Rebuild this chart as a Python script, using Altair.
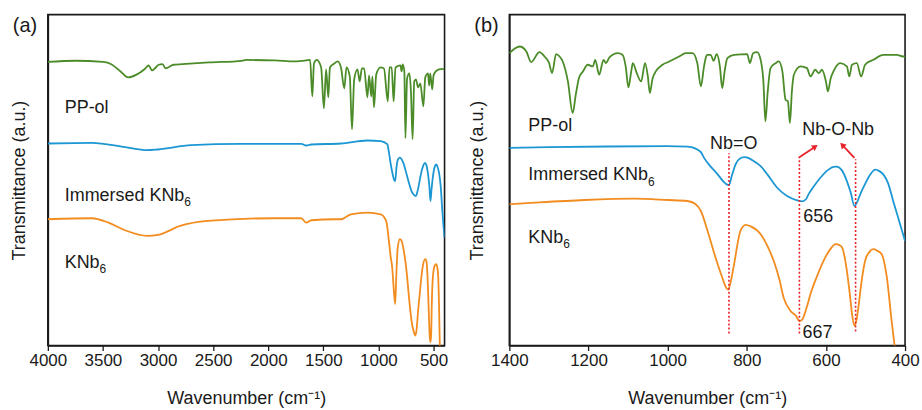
import altair as alt
import pandas as pd

FONT = "Liberation Sans"
GREEN = "#4b8c29"
BLUE = "#1d97d4"
ORANGE = "#f28c1f"
RED = "#e8232b"

# ---------------- Panel (a): 4000-400 cm-1 ----------------
a_green_wn = [4000, 3750, 3500, 3420, 3340, 3270, 3200, 3120, 3085, 3055, 3025, 2995, 2960, 2930, 2900, 2860,
              2780, 2540, 2240, 2200, 1940, 1760, 1700, 1620, 1600, 1585, 1560, 1520, 1495, 1475, 1455, 1440,
              1400, 1370, 1340, 1310, 1290, 1260, 1240, 1220, 1190, 1170, 1150, 1130, 1100, 1085, 1065, 1055,
              1040, 1020, 980, 950, 915, 900, 880, 862, 845, 800, 790, 780, 765, 755, 740, 720, 705, 690, 675,
              660, 640, 620, 592, 575, 550, 540, 530, 512, 500, 480, 450, 420, 400]
a_green_t = [284.5, 285.7, 284.5, 282, 275, 269, 271.5, 277.5, 281, 276, 278.5, 281.7, 282.3, 278, 279.5, 281.7,
             282.3, 284, 285.7, 286.5, 286, 285, 285.5, 286.5, 250, 283, 286.5, 279, 238, 277, 249, 279,
             283, 285, 279, 258, 279, 270, 217, 267, 277, 265, 278, 278, 249, 271, 250, 270,
             239, 272, 279, 278, 245, 279, 279, 245, 279, 281, 275, 282, 275, 208, 268, 273, 255, 207, 265,
             267, 259, 263, 240, 269, 273, 261, 273, 257, 271, 275, 277, 277.5, 277]

a_blue_wn = [4000, 3600, 3300, 3100, 3000, 2700, 2250, 1700, 1655, 1610, 1340, 1100, 980, 920, 905, 890, 875,
             860, 848, 835, 822, 805, 790, 770, 745, 720, 700, 680, 660, 645, 630, 615, 595, 578, 565, 550,
             538, 528, 518, 505, 490, 475, 460, 448, 435, 420, 400]
a_blue_t = [202.7, 203.3, 199, 196, 196.7, 201, 202.3, 202.3, 200.7, 201.7, 202.7, 205.7, 205, 202, 194, 183, 174,
            167, 165, 180, 187, 188.5, 187, 182, 172, 162, 155, 151.5, 150, 155, 163, 171.7, 180, 183.3, 181, 172,
            160, 145, 157, 170, 179, 181.7, 178, 172, 160, 135, 108.3]

a_orange_wn = [4000, 3600, 3450, 3300, 3100, 3000, 2800, 2550, 1950, 1700, 1655, 1610, 1400, 1340, 1250, 1100,
               980, 930, 905, 890, 875, 860, 848, 838, 825, 805, 790, 770, 745, 720, 700, 680, 667, 655, 640,
               620, 600, 575, 565, 555, 545, 535, 528, 522, 515, 505, 490, 477, 465, 458, 450, 443, 435]
a_orange_t = [126.7, 127.7, 123.3, 115.7, 110, 111, 120, 125, 127.7, 127.7, 123.3, 125.7, 126.7, 126.7, 131.7, 133.3,
              131.7, 125, 105, 90, 78.3, 55, 41.7, 70, 98.3, 106.7, 105, 95, 75, 45, 25, 14, 10, 15, 35,
              58, 78, 86.7, 85, 70, 40, 10, 3.3, 10, 45, 70, 80, 81.7, 78, 70, 40, 0, -20]

# ---------------- Panel (b): 1400-400 cm-1 ----------------
b_green_wn = [1400, 1374, 1357, 1345, 1324, 1311, 1300, 1292, 1282, 1273, 1265, 1252, 1240, 1232, 1224, 1214,
              1202, 1189, 1183, 1173, 1162, 1156, 1147, 1126, 1114, 1106, 1099, 1092, 1088, 1078, 1067, 1057,
              1050, 1045, 1038, 1030, 1013, 996, 971, 954, 937, 925, 916, 908, 904, 900, 891, 884, 876, 868,
              862, 856, 849, 832, 799, 792, 784, 774, 765, 758, 753, 747, 740, 727, 719, 710, 702, 696, 691,
              686, 681, 664, 648, 639, 627, 618, 610, 600, 595, 588, 581, 564, 547, 541, 534, 522, 511, 501,
              480, 455, 438, 421, 405, 400]
b_green_t = [293.3, 300, 295, 284.3, 294.3, 290, 284, 273.3, 292.3, 290, 285, 265, 233.3, 252, 268.3, 275,
             281.7, 280, 286.7, 271.7, 286.7, 283.3, 289, 293.3, 291.7, 280, 259, 275, 283.3, 273.3, 265, 283.3,
             270, 253.3, 268, 275, 281.7, 285, 290, 293.3, 293.3, 283.3, 260, 280, 288.3, 291.7, 291.7, 285.7, 292.3, 280,
             258.3, 275, 288.3, 291.7, 292.3, 283.3, 293.3, 294.3, 286.7, 265, 225, 255, 278.3, 283.3, 285, 275, 246.7, 245, 223.3,
             255, 271.7, 280, 278.3, 270, 276.7, 273.3, 276.7, 265, 255, 268, 275, 283.3, 280, 270, 281.7, 283.3, 270, 281.7,
             286.7, 291.7, 291.7, 291.7, 290, 290]

b_blue_wn = [1400, 1300, 1150, 1000, 950, 932, 916, 908, 890, 874, 860, 851, 845, 838, 828, 818, 806, 795, 782,
             765, 748, 723, 698, 673, 660, 650, 644, 630, 614, 595, 581, 573, 560, 547, 537, 528, 520, 513, 500,
             488, 475, 465, 455, 443, 430, 415, 400]
b_blue_t = [198.3, 199, 199.7, 200, 199.5, 198, 194, 188.3, 179, 172, 165, 161.7, 161, 170, 182, 187.5, 189, 188, 185,
            180, 171.7, 158.3, 150, 145.7, 144.7, 147, 151.7, 160, 168.3, 176, 179.3, 179.5, 176, 165, 153, 140, 145, 152, 163,
            171.7, 176.5, 175, 171.7, 163, 145, 125, 105]

b_orange_wn = [1400, 1336, 1210, 1084, 1000, 950, 930, 916, 899, 879, 862, 852, 847, 840, 832, 816, 803, 790, 765,
               748, 732, 718, 707, 690, 675, 667, 660, 648, 639, 622, 606, 590, 575, 565, 559, 547, 540, 534, 528,
               522, 518, 510, 501, 490, 480, 470, 459, 446, 434, 425]
b_orange_t = [141.7, 143.3, 146, 147.3, 146, 145, 142, 135, 115, 88.3, 68.3, 58, 56, 65, 81.7, 115, 121, 119.5, 111.7,
              100, 85, 67, 48.3, 35, 29.5, 24.5, 26, 39, 51.7, 70, 85, 96, 101.7, 100.5, 98.3, 75, 53, 31.7, 20,
              27, 38.3, 64, 85, 94, 96.7, 95, 91.7, 68.3, 25, -5]

# sample labels
a_label_wn = [3847, 3847, 3847]
a_label_t = [238, 150, 83]
b_label_wn = [1352, 1352, 1352]
b_label_t = [220, 171, 108]
label_text = ["PP-ol", "Immersed KNb", "KNb"]
sub_dx = [None, 120, 35]

# panel (b) annotations
peak_wn = [845, 667, 525]
peak_top = [193, 187, 187]
peak_bottom = [12, 12, 14]
note_text = ["Nb=O", "Nb-O-Nb", "656", "667"]
note_wn = [833, 569, 657, 659]
note_t = [202, 216, 129, 12.5]
note_align = ["center", "center", "left", "left"]
arrow_start_wn = [669, 528]
arrow_start_t = [188.3, 188.3]
arrow_end_wn = [629, 557]
arrow_end_t = [199, 200.5]
arrow_angle = [55, 317]

Y_DOMAIN = [0, 332]


def spectra_df(parts):
    rows = []
    for name, wn, t in parts:
        for w, v in zip(wn, t):
            rows.append({"series": name, "wn": w, "t": v})
    return pd.DataFrame(rows)


color_scale = alt.Scale(domain=["PP-ol", "Immersed KNb6", "KNb6"], range=[GREEN, BLUE, ORANGE])


def panel(parts, x_domain, tick_values, label_mod, lab_wn, lab_t, W, H, tag, ytp):
    df = spectra_df(parts)
    x_axis = alt.Axis(
        title="Wavenumber (cm⁻¹)", values=tick_values, format="d",
        labelExpr=f"datum.value % {label_mod} === 0 ? datum.label : ''",
        tickSize={"condition": {"test": f"datum.value % {label_mod} === 0", "value": 5}, "value": 3},
        grid=False, labelFlush=False, labelOverlap=False,
    )
    x = alt.X("wn:Q", scale=alt.Scale(domain=x_domain, nice=False, zero=False), axis=x_axis)
    y = alt.Y("t:Q", scale=alt.Scale(domain=Y_DOMAIN, nice=False, zero=False),
              axis=alt.Axis(title="Transmittance (a.u.)", labels=False, ticks=False, grid=False,
                            titlePadding=ytp))
    lines = alt.Chart(df).mark_line(strokeWidth=1.8, interpolate="monotone", clip=True).encode(
        x=x, y=y, color=alt.Color("series:N", scale=color_scale, legend=None), detail="series:N")

    ldf = pd.DataFrame({"wn": lab_wn, "t": lab_t, "text": label_text})
    labels = alt.Chart(ldf).mark_text(align="left", baseline="middle", font=FONT, fontSize=18, color="#1a1a1a").encode(
        x="wn:Q", y="t:Q", text="text:N")
    subs = []
    for i in range(3):
        if sub_dx[i] is None:
            continue
        sdf = pd.DataFrame({"wn": [lab_wn[i]], "t": [lab_t[i]], "text": ["6"]})
        subs.append(alt.Chart(sdf).mark_text(align="left", baseline="middle", font=FONT, fontSize=12,
                                              dx=sub_dx[i], dy=6.5, color="#1a1a1a").encode(
            x="wn:Q", y="t:Q", text="text:N"))
    tag_df = pd.DataFrame({"text": [tag]})
    tag_mark = alt.Chart(tag_df).mark_text(align="center", baseline="middle", font=FONT, fontSize=20,
                                           color="#1a1a1a").encode(
        x=alt.value(-23), y=alt.value(11), text="text:N")
    return [lines, labels, tag_mark] + subs, W, H


a_layers, aW, aH = panel(
    [("PP-ol", a_green_wn, a_green_t), ("Immersed KNb6", a_blue_wn, a_blue_t), ("KNb6", a_orange_wn, a_orange_t)],
    [4000, 400], list(range(4000, 499, -250)), 500, a_label_wn, a_label_t, 398, 332, "(a)", 19)

b_layers, bW, bH = panel(
    [("PP-ol", b_green_wn, b_green_t), ("Immersed KNb6", b_blue_wn, b_blue_t), ("KNb6", b_orange_wn, b_orange_t)],
    [1400, 400], list(range(1400, 399, -100)), 200, b_label_wn, b_label_t, 397, 332, "(b)", 23)

# annotations for (b)
vdf = pd.DataFrame({"wn": peak_wn, "top": peak_top, "bottom": peak_bottom})
vlines = alt.Chart(vdf).mark_rule(color=RED, strokeWidth=1.6, strokeDash=[2, 2]).encode(
    x="wn:Q", y="bottom:Q", y2="top:Q")
ndf = pd.DataFrame({"wn": note_wn, "t": note_t, "text": note_text, "align": note_align})
notes_c = alt.Chart(ndf[ndf["align"] == "center"]).mark_text(align="center", baseline="middle", font=FONT,
                                                              fontSize=18, color="#1a1a1a").encode(
    x="wn:Q", y="t:Q", text="text:N")
notes_l = alt.Chart(ndf[ndf["align"] == "left"]).mark_text(align="left", baseline="middle", font=FONT,
                                                            fontSize=18, color="#1a1a1a").encode(
    x="wn:Q", y="t:Q", text="text:N")
adf = pd.DataFrame({"x1": arrow_start_wn, "y1": arrow_start_t, "x2": arrow_end_wn, "y2": arrow_end_t,
                    "angle": arrow_angle})
arrows = alt.Chart(adf).mark_rule(color=RED, strokeWidth=1.8).encode(
    x="x1:Q", y="y1:Q", x2="x2:Q", y2="y2:Q")
heads = alt.Chart(adf).mark_point(shape="triangle", filled=True, color=RED, size=45, opacity=1).encode(
    x="x2:Q", y="y2:Q", angle=alt.Angle("angle:Q", scale=None))

chart_a = alt.layer(*a_layers).properties(width=aW, height=aH)
chart_b = alt.layer(*(b_layers + [vlines, notes_c, notes_l, arrows, heads])).properties(width=bW, height=bH)

chart = alt.hconcat(chart_a, chart_b, spacing=65, bounds="flush").properties(
    padding={"left": 10, "top": 13, "right": 2, "bottom": 2}
).configure_view(
    stroke="#1a1a1a", strokeWidth=1.6
).configure_axis(
    labelFont=FONT, titleFont=FONT, labelFontSize=17, titleFontSize=18, titleFontWeight="normal",
    labelColor="#1a1a1a", titleColor="#1a1a1a", domainColor="#1a1a1a", tickColor="#1a1a1a",
    domainWidth=1.6, tickWidth=1.3, labelPadding=2
).configure_axisX(
    titlePadding=21
)

chart.save("out.html", embed_options={"renderer": "svg", "actions": False})
